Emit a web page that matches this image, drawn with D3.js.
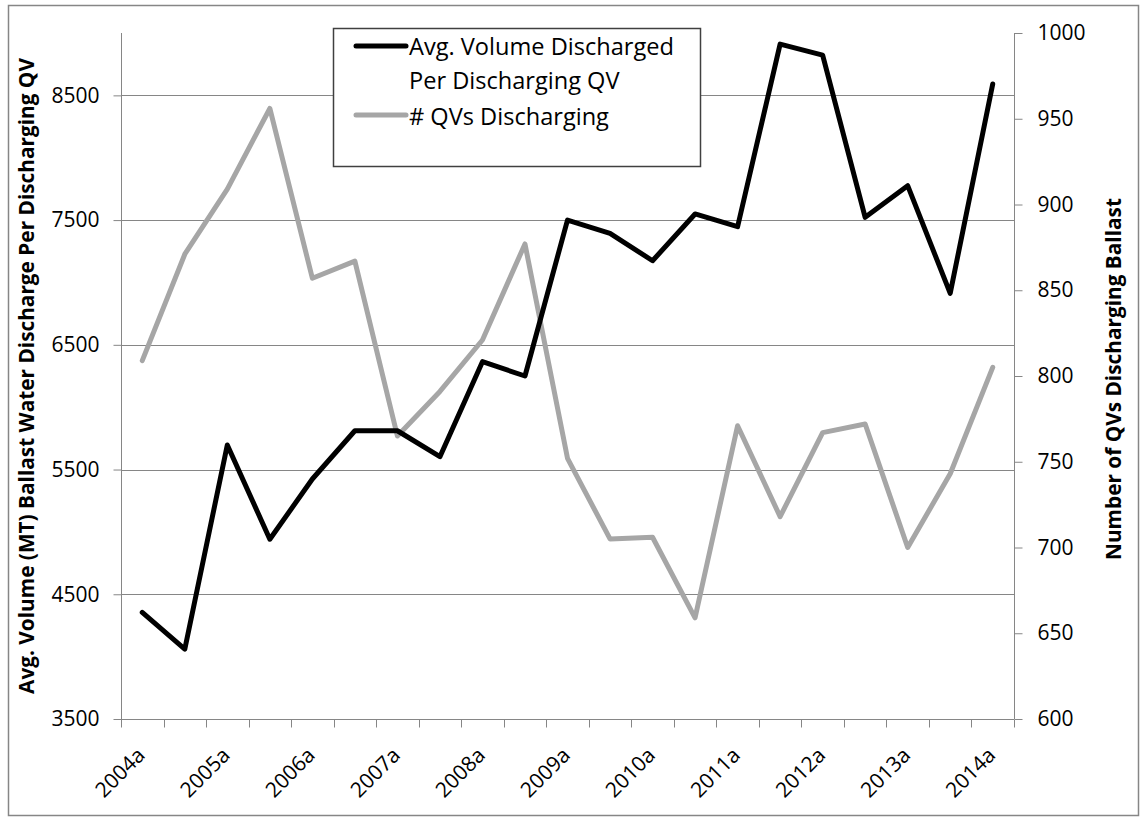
<!DOCTYPE html>
<html>
<head>
<meta charset="utf-8">
<script src="https://cdn.jsdelivr.net/npm/d3@7/dist/d3.min.js"></script>
<style>
  html, body { margin: 0; padding: 0; background: #fff; }
  svg { display: block; font-family: "Open Sans", Lato, sans-serif; }
</style>
</head>
<body>
<svg id="chart" width="1145" height="822"></svg>
<script>
const categories = ["2004a","2004b","2005a","2005b","2006a","2006b","2007a","2007b","2008a","2008b",
  "2009a","2009b","2010a","2010b","2011a","2011b","2012a","2012b","2013a","2013b","2014a"];
const tickLabels = ["2004a","2005a","2006a","2007a","2008a","2009a","2010a","2011a","2012a","2013a","2014a"];
const avgVolume = [4355,4060,5697,4941,5424,5811,5811,5603,6365,6250,7500,7394,7174,7549,7447,8911,8823,7522,7776,6913,8591];
const qvCount = [809,871,909,956,857,867,765,791,821,877,752,705,706,659,771,718,767,772,700,743,805];
const leftTicks = [3500,4500,5500,6500,7500,8500];
const rightTicks = [600,650,700,750,800,850,900,950,1000];
const seriesNames = ["Avg. Volume Discharged", "Per Discharging QV", "# QVs Discharging"];
const leftTitle = "Avg. Volume (MT) Ballast Water Discharge Per Discharging QV";
const rightTitle = "Number of QVs Discharging Ballast";

const svg = d3.select("#chart");
const axisColor = "#868686";
const plot = {left: 121, right: 1014, top: 33, bottom: 719};
const tickFont = 21;

// fit a text element's font size so its length matches a target width
function fit(sel, target) {
  const n = sel.node();
  const fs = parseFloat(sel.attr("font-size"));
  const len = n.getComputedTextLength();
  if (len > 0) sel.attr("font-size", (fs * target / len).toFixed(2));
  return sel;
}

// outer border
svg.append("rect").attr("x", 8.5).attr("y", 5.5).attr("width", 1130).attr("height", 810)
  .attr("fill", "none").attr("stroke", axisColor).attr("stroke-width", 1.5);

const x = d3.scaleBand().domain(categories).range([plot.left, plot.right]).paddingInner(0).paddingOuter(0);
const yL = d3.scaleLinear().domain([3500, 9000]).range([plot.bottom, plot.top]);
const yR = d3.scaleLinear().domain([600, 1000]).range([plot.bottom, plot.top]);
const cx = d => x(d) + x.bandwidth() / 2;

// gridlines
svg.append("g").selectAll("line").data(leftTicks.filter(t => t > 3500)).join("line")
  .attr("x1", plot.left).attr("x2", plot.right)
  .attr("y1", d => Math.round(yL(d)) + 0.5).attr("y2", d => Math.round(yL(d)) + 0.5)
  .attr("stroke", axisColor).attr("stroke-width", 1);

// left axis
const gL = svg.append("g").attr("transform", `translate(${plot.left + 0.5},0)`)
  .call(d3.axisLeft(yL).tickValues(leftTicks).tickSize(8).tickPadding(14).tickFormat(d3.format("d")));
gL.select(".domain").attr("d", `M0,${plot.top}V${plot.bottom}`);

// right axis
const gR = svg.append("g").attr("transform", `translate(${plot.right + 0.5},0)`)
  .call(d3.axisRight(yR).tickValues(rightTicks).tickSize(8).tickPadding(15).tickFormat(d3.format("d")));
gR.select(".domain").attr("d", `M0,${plot.top}V${plot.bottom}`);

[gL, gR].forEach(g => {
  g.selectAll(".domain").attr("stroke", axisColor);
  g.selectAll(".tick line").attr("stroke", axisColor);
  g.selectAll(".tick text").attr("font-size", tickFont).attr("fill", "#000")
    .attr("font-family", "'Open Sans', sans-serif");
});

// bottom axis
const boundaries = categories.map(c => x(c)).concat([plot.right]);
const gB = svg.append("g").attr("transform", `translate(0,${plot.bottom + 0.5})`);
gB.append("line").attr("x1", plot.left).attr("x2", plot.right).attr("stroke", axisColor);
gB.selectAll("line.tk").data(boundaries).join("line").attr("class", "tk")
  .attr("x1", d => Math.round(d) + 0.5).attr("x2", d => Math.round(d) + 0.5)
  .attr("y1", 0).attr("y2", 8).attr("stroke", axisColor);
gB.selectAll("text").data(tickLabels).join("text")
  .attr("transform", d => `translate(${cx(d) + 4},${37}) rotate(-45)`)
  .attr("text-anchor", "end")
  .attr("font-size", tickFont).attr("fill", "#000").text(d => d);

// series lines
const lineL = d3.line().x((d, i) => cx(categories[i])).y(d => yL(d));
const lineR = d3.line().x((d, i) => cx(categories[i])).y(d => yR(d));
svg.append("path").datum(qvCount).attr("d", lineR).attr("fill", "none")
  .attr("stroke", "#a6a6a6").attr("stroke-width", 5).attr("stroke-linejoin", "round").attr("stroke-linecap", "round");
svg.append("path").datum(avgVolume).attr("d", lineL).attr("fill", "none")
  .attr("stroke", "#000").attr("stroke-width", 5).attr("stroke-linejoin", "round").attr("stroke-linecap", "round");

// axis titles
fit(svg.append("text").attr("transform", `translate(34,${(plot.top + plot.bottom) / 2}) rotate(-90)`)
  .attr("text-anchor", "middle").attr("font-weight", "bold").attr("font-size", 18).text(leftTitle), 636);
fit(svg.append("text").attr("transform", `translate(1121,${379}) rotate(-90)`)
  .attr("text-anchor", "middle").attr("font-weight", "bold").attr("font-size", 18).text(rightTitle), 362);

// legend
const lg = svg.append("g");
lg.append("rect").attr("x", 333.5).attr("y", 28.5).attr("width", 367).attr("height", 138)
  .attr("fill", "#fff").attr("stroke", "#404040").attr("stroke-width", 1.5);
lg.append("line").attr("x1", 356).attr("x2", 406).attr("y1", 46).attr("y2", 46)
  .attr("stroke", "#000").attr("stroke-width", 5).attr("stroke-linecap", "round");
lg.append("line").attr("x1", 356).attr("x2", 406).attr("y1", 115).attr("y2", 115)
  .attr("stroke", "#a6a6a6").attr("stroke-width", 5).attr("stroke-linecap", "round");
const t0 = fit(lg.append("text").attr("x", 409).attr("y", 55).attr("font-size", 21).text(seriesNames[0]), 265);
const lfs = t0.attr("font-size");
lg.append("text").attr("x", 409).attr("y", 89).attr("font-size", lfs).text(seriesNames[1]);
lg.append("text").attr("x", 409).attr("y", 125).attr("font-size", lfs).text(seriesNames[2]);
</script>
</body>
</html>
